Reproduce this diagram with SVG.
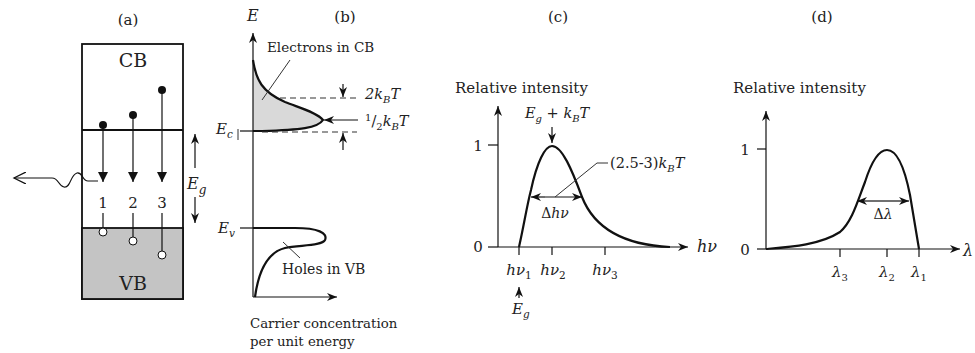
<svg xmlns="http://www.w3.org/2000/svg" width="975" height="353" viewBox="0 0 975 353" font-family="DejaVu Serif, Liberation Serif, Noto Serif, serif">
<style>
text{font-family:"DejaVu Serif","Liberation Serif","Noto Serif",serif;fill:#222}
.i{font-style:italic}
.ln{stroke:#111;stroke-width:1.2;fill:none}
.th{stroke:#111;stroke-width:2.2;fill:none}
.ds{stroke:#333;stroke-width:1.1;fill:none;stroke-dasharray:6,4}
.lb{font-size:15px}
.sm{font-size:13.3px}
</style>
<defs>
<marker id="ah" markerUnits="userSpaceOnUse" markerWidth="12" markerHeight="10" refX="10" refY="4" orient="auto">
<path d="M0,0 L10,4 L0,8 L3,4 Z" fill="#111"/>
</marker>
<marker id="af" markerUnits="userSpaceOnUse" markerWidth="12" markerHeight="12" refX="10" refY="5" orient="auto">
<path d="M0,0 L10,5 L0,10 Z" fill="#111"/>
</marker>
<marker id="ao" markerUnits="userSpaceOnUse" markerWidth="14" markerHeight="12" refX="12" refY="6" orient="auto">
<path d="M0,0 L12,6 L0,12" fill="none" stroke="#111" stroke-width="1.3"/>
</marker>
</defs>

<g id="panel-a">
<text x="128" y="25" class="lb" text-anchor="middle">(a)</text>
<rect x="82" y="44" width="101" height="255" fill="#fff" stroke="#111" stroke-width="1.8"/>
<rect x="82" y="228" width="101" height="71" fill="#c4c4c4" stroke="#111" stroke-width="1.8"/>
<line x1="82" y1="130" x2="183" y2="130" stroke="#111" stroke-width="1.8"/>
<text x="133" y="67" font-size="19" text-anchor="middle">CB</text>
<text x="133" y="290" font-size="19" text-anchor="middle">VB</text>
<g id="trans1">
<circle cx="103" cy="125" r="4" fill="#111"/>
<line x1="103" y1="125" x2="103" y2="182" class="ln" marker-end="url(#af)"/>
<text x="103" y="208" class="lb" text-anchor="middle">1</text>
<line x1="103" y1="213" x2="103" y2="228" class="ln"/>
<circle cx="103" cy="232" r="4" fill="#fff" stroke="#111" stroke-width="1"/>
</g>
<g id="trans2">
<circle cx="133" cy="115" r="4" fill="#111"/>
<line x1="133" y1="115" x2="133" y2="182" class="ln" marker-end="url(#af)"/>
<text x="133" y="208" class="lb" text-anchor="middle">2</text>
<line x1="133" y1="213" x2="133" y2="237" class="ln"/>
<circle cx="133" cy="241" r="4" fill="#fff" stroke="#111" stroke-width="1"/>
</g>
<g id="trans3">
<circle cx="162" cy="90" r="4" fill="#111"/>
<line x1="162" y1="90" x2="162" y2="182" class="ln" marker-end="url(#af)"/>
<text x="162" y="208" class="lb" text-anchor="middle">3</text>
<line x1="162" y1="213" x2="162" y2="251" class="ln"/>
<circle cx="162" cy="255" r="4" fill="#fff" stroke="#111" stroke-width="1"/>
</g>
<path d="M98,181 L88,181 C82,181 83,172 77,173 C70,175 71,188 64,187 C58,186 59,178 52,178 L14,178" class="ln" marker-end="url(#ao)"/>
<line x1="195" y1="168" x2="195" y2="134" class="ln" marker-end="url(#ah)"/>
<line x1="195" y1="197" x2="195" y2="223" class="ln" marker-end="url(#ah)"/>
<text x="187" y="189" font-size="16" class="i">E<tspan font-size="12" dy="5">g</tspan></text>
</g>

<g id="panel-b">
<text x="345" y="22" class="lb" text-anchor="middle">(b)</text>
<text x="247" y="21" font-size="16" class="i">E</text>
<path d="M253,60 C256,80 262,92 285,102 C300,108 318,113 323,120 C318,128 300,130 262,131 L253,131 Z" fill="#d9d9d9"/>
<path d="M253,60 C256,80 262,92 285,102 C300,108 318,113 323,120 C318,128 300,130 262,131 L253,131" class="th"/>
<line x1="280" y1="98" x2="357" y2="98" class="ds"/>
<line x1="262" y1="132" x2="357" y2="132" class="ds"/>
<line x1="343" y1="84" x2="343" y2="97" class="ln" marker-end="url(#ah)"/>
<line x1="343" y1="150" x2="343" y2="133" class="ln" marker-end="url(#ah)"/>
<line x1="358" y1="120" x2="324" y2="120" class="ln" marker-end="url(#ah)"/>
<text x="365" y="99" font-size="14.5" class="i">2k<tspan font-size="10" dy="4">B</tspan><tspan dy="-4">T</tspan></text>
<text x="365" y="126" font-size="14.5" class="i"><tspan font-size="10" dy="-5" font-style="normal">1</tspan><tspan dy="5" font-style="normal">/</tspan><tspan font-size="10" dy="4" font-style="normal">2</tspan><tspan dy="-4">k</tspan><tspan font-size="10" dy="4">B</tspan><tspan dy="-4">T</tspan></text>
<text x="267" y="52" font-size="13.5">Electrons in CB</text>
<line x1="290" y1="60" x2="262" y2="100" stroke="#333" stroke-width="1"/>
<line x1="240" y1="131" x2="253" y2="131" class="ln"/>
<text x="216" y="134" font-size="15" class="i">E<tspan font-size="10.5" dy="4">c</tspan></text>
<line x1="238" y1="129" x2="238" y2="140" stroke="#333" stroke-width="1"/>
<line x1="240" y1="228" x2="253" y2="228" class="ln"/>
<text x="218" y="233" font-size="15" class="i">E<tspan font-size="10.5" dy="4">v</tspan></text>
<path d="M253,228 L295,228 C318,228 328,233 325,240 C322,246 300,245 285,248 C265,253 258,275 255,297" class="th"/>
<line x1="283" y1="242" x2="300" y2="258" stroke="#333" stroke-width="1"/>
<text x="282" y="274" font-size="14">Holes in VB</text>
<line x1="253" y1="297" x2="253" y2="33" class="ln" marker-end="url(#ah)"/>
<line x1="253" y1="297" x2="337" y2="297" class="ln" marker-end="url(#ah)"/>
<text x="250" y="328" class="sm">Carrier concentration</text>
<text x="250" y="346" class="sm">per unit energy</text>
</g>

<g id="panel-c">
<text x="558" y="22" class="lb" text-anchor="middle">(c)</text>
<text x="455" y="93" class="lb">Relative intensity</text>
<line x1="498" y1="247" x2="498" y2="106" class="ln" marker-end="url(#ah)"/>
<line x1="498" y1="247" x2="688" y2="247" class="ln" marker-end="url(#ah)"/>
<line x1="488" y1="145" x2="498" y2="145" class="ln"/>
<line x1="488" y1="247" x2="498" y2="247" class="ln"/>
<text x="478" y="151" class="lb" text-anchor="middle">1</text>
<text x="478" y="252" class="lb" text-anchor="middle">0</text>
<text x="697" y="252" font-size="16" class="i">hν</text>
<path d="M519,247 C524,225 527,205 531,190 C537,162 545,146 552,146 C562,146 572,170 582,197 C595,230 625,245 670,247" class="th"/>
<line x1="519" y1="247" x2="519" y2="255" class="ln"/>
<line x1="552" y1="247" x2="552" y2="255" class="ln"/>
<line x1="605" y1="247" x2="605" y2="255" class="ln"/>
<text x="519" y="275" font-size="15" class="i" text-anchor="middle">hν<tspan font-size="10.5" dy="4" font-style="normal">1</tspan></text>
<text x="553" y="275" font-size="15" class="i" text-anchor="middle">hν<tspan font-size="10.5" dy="4" font-style="normal">2</tspan></text>
<text x="605" y="275" font-size="15" class="i" text-anchor="middle">hν<tspan font-size="10.5" dy="4" font-style="normal">3</tspan></text>
<line x1="519" y1="298" x2="519" y2="287" class="ln" marker-end="url(#ah)"/>
<text x="512" y="314" font-size="15" class="i">E<tspan font-size="10.5" dy="4">g</tspan></text>
<text x="525" y="118" font-size="14.5" class="i">E<tspan font-size="10" dy="4">g</tspan><tspan dy="-4" font-style="normal"> + </tspan>k<tspan font-size="10" dy="4">B</tspan><tspan dy="-4">T</tspan></text>
<line x1="552" y1="127" x2="552" y2="143" class="ln" marker-end="url(#ah)"/>
<line x1="545" y1="197" x2="531" y2="197" class="ln" marker-end="url(#ah)"/>
<line x1="545" y1="197" x2="582" y2="197" class="ln" marker-end="url(#ah)"/>
<text x="555" y="218" font-size="14" text-anchor="middle">Δ<tspan class="i">hν</tspan></text>
<path d="M555,197 L597,163 L608,163" stroke="#333" stroke-width="1" fill="none"/>
<text x="610" y="168" font-size="14.5">(2.5-3)<tspan class="i">k</tspan><tspan font-size="10" dy="4" class="i">B</tspan><tspan dy="-4" class="i">T</tspan></text>
</g>

<g id="panel-d">
<text x="822" y="22" class="lb" text-anchor="middle">(d)</text>
<text x="733" y="93" class="lb">Relative intensity</text>
<line x1="766" y1="249" x2="766" y2="111" class="ln" marker-end="url(#ah)"/>
<line x1="766" y1="249" x2="960" y2="249" class="ln" marker-end="url(#ah)"/>
<line x1="757" y1="149" x2="766" y2="149" class="ln"/>
<line x1="757" y1="249" x2="766" y2="249" class="ln"/>
<text x="745" y="155" class="lb" text-anchor="middle">1</text>
<text x="745" y="255" class="lb" text-anchor="middle">0</text>
<text x="963" y="256" font-size="16" class="i">λ</text>
<path d="M766,249 C790,247 820,245 840,232 C852,222 858,200 865,182 C872,160 880,150 887,150 C898,150 905,170 910,195 C913,212 916,232 919,249" class="th"/>
<line x1="840" y1="249" x2="840" y2="257" class="ln"/>
<line x1="887" y1="249" x2="887" y2="257" class="ln"/>
<line x1="919" y1="249" x2="919" y2="257" class="ln"/>
<text x="840" y="277" font-size="15" class="i" text-anchor="middle">λ<tspan font-size="10" dy="4" font-style="normal">3</tspan></text>
<text x="887" y="277" font-size="15" class="i" text-anchor="middle">λ<tspan font-size="10" dy="4" font-style="normal">2</tspan></text>
<text x="919" y="277" font-size="15" class="i" text-anchor="middle">λ<tspan font-size="10" dy="4" font-style="normal">1</tspan></text>
<line x1="883" y1="201" x2="857" y2="201" class="ln" marker-end="url(#ah)"/>
<line x1="883" y1="201" x2="909" y2="201" class="ln" marker-end="url(#ah)"/>
<text x="883" y="219" font-size="14" text-anchor="middle">Δ<tspan class="i">λ</tspan></text>
</g>
</svg>
